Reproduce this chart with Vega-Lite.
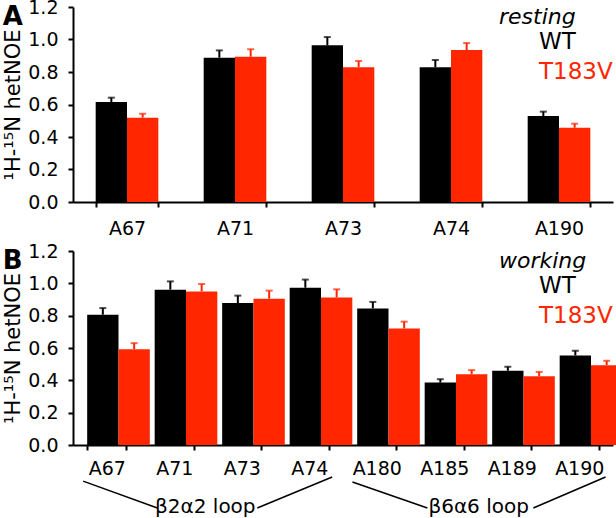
{
  "$schema": "https://vega.github.io/schema/vega-lite/v6.json",
  "padding": {"top": -2, "left": 2, "right": 0, "bottom": 0},
  "background": "white",
  "config": {
    "view": {"stroke": null},
    "font": "DejaVu Sans",
    "axis": {
      "domainColor": "black", "domainWidth": 2, "tickColor": "black", "tickWidth": 2, "tickSize": 5,
      "labelColor": "black", "labelFont": "DejaVu Sans", "labelFontSize": 19, "grid": false, "labelOverlap": false,
      "titleColor": "black", "titleFont": "DejaVu Sans", "titleFontWeight": "normal"
    },
    "axisY": {"titleFontSize": 21, "titlePadding": 4, "labelPadding": 10}
  },
  "datasets": {
    "resting": [
      {"residue": "A67", "series": "WT", "value": 0.615, "upper": 0.642},
      {"residue": "A67", "series": "T183V", "value": 0.519, "upper": 0.543},
      {"residue": "A71", "series": "WT", "value": 0.888, "upper": 0.933},
      {"residue": "A71", "series": "T183V", "value": 0.894, "upper": 0.940},
      {"residue": "A73", "series": "WT", "value": 0.964, "upper": 1.015},
      {"residue": "A73", "series": "T183V", "value": 0.830, "upper": 0.868},
      {"residue": "A74", "series": "WT", "value": 0.830, "upper": 0.874},
      {"residue": "A74", "series": "T183V", "value": 0.935, "upper": 0.978},
      {"residue": "A190", "series": "WT", "value": 0.529, "upper": 0.556},
      {"residue": "A190", "series": "T183V", "value": 0.457, "upper": 0.482}
    ],
    "working": [
      {"residue": "A67", "series": "WT", "value": 0.806, "upper": 0.847},
      {"residue": "A67", "series": "T183V", "value": 0.593, "upper": 0.630},
      {"residue": "A71", "series": "WT", "value": 0.961, "upper": 1.012},
      {"residue": "A71", "series": "T183V", "value": 0.950, "upper": 0.996},
      {"residue": "A73", "series": "WT", "value": 0.878, "upper": 0.924},
      {"residue": "A73", "series": "T183V", "value": 0.905, "upper": 0.955},
      {"residue": "A74", "series": "WT", "value": 0.973, "upper": 1.023},
      {"residue": "A74", "series": "T183V", "value": 0.913, "upper": 0.963},
      {"residue": "A180", "series": "WT", "value": 0.845, "upper": 0.885},
      {"residue": "A180", "series": "T183V", "value": 0.721, "upper": 0.763},
      {"residue": "A185", "series": "WT", "value": 0.386, "upper": 0.407},
      {"residue": "A185", "series": "T183V", "value": 0.438, "upper": 0.463},
      {"residue": "A189", "series": "WT", "value": 0.459, "upper": 0.484},
      {"residue": "A189", "series": "T183V", "value": 0.426, "upper": 0.452},
      {"residue": "A190", "series": "WT", "value": 0.554, "upper": 0.583},
      {"residue": "A190", "series": "T183V", "value": 0.494, "upper": 0.521}
    ],
    "brackets": [
      {"x": 0.15, "y": -0.186, "x2": 1.25, "y2": -0.325},
      {"x": 2.73, "y": -0.325, "x2": 3.84, "y2": -0.165},
      {"x": 4.14, "y": -0.191, "x2": 5.25, "y2": -0.325},
      {"x": 6.82, "y": -0.325, "x2": 7.89, "y2": -0.165}
    ],
    "loops": [
      {"x": 1.96, "y": -0.348, "label": "β2α2 loop"},
      {"x": 6.01, "y": -0.348, "label": "β6α6 loop"}
    ]
  },
  "resolve": {"legend": {"color": "independent"}},
  "spacing": 4,
  "vconcat": [
    {
      "width": 540, "height": 195,
      "data": {"name": "resting"},
      "title": {"text": "A", "anchor": "start", "frame": "bounds", "orient": "top", "fontSize": 26, "fontWeight": "bold", "font": "DejaVu Sans", "color": "black", "offset": 0, "dy": 32, "dx": 0},
      "encoding": {
        "x": {"field": "residue", "type": "nominal", "sort": ["A67", "A71", "A73", "A74", "A190"],
              "scale": {"paddingInner": 0.42, "paddingOuter": 0.21},
              "axis": {"title": null, "labelAngle": 0, "tickBand": "extent", "labelPadding": 12}},
        "xOffset": {"field": "series", "type": "nominal", "sort": ["WT", "T183V"], "scale": {"paddingInner": 0, "paddingOuter": 0}},
        "color": {"field": "series", "type": "nominal", "sort": ["WT", "T183V"],
                  "scale": {"domain": ["WT", "T183V"], "range": ["#000000", "#FF2600"]},
                  "legend": {"title": "resting", "orient": "top-right", "offset": 0, "padding": 0, "symbolSize": 0, "symbolStrokeWidth": 0, "symbolOpacity": 0, "labelOffset": 17,
                             "labelFont": "DejaVu Sans", "labelFontSize": 23, "titleFont": "DejaVu Sans", "titleFontSize": 22, "titleFontStyle": "italic", "titleFontWeight": "normal", "titleColor": "black", "titlePadding": 1, "rowPadding": 6,
                             "encode": {"labels": {"update": {"fill": {"scale": "color", "field": "value"}}}}}}
      },
      "layer": [
        {"mark": {"type": "bar"}, "encoding": {"y": {"field": "value", "type": "quantitative", "scale": {"domain": [0, 1.2]},
          "axis": {"title": "¹H-¹⁵N hetNOE", "values": [0, 0.2, 0.4, 0.6, 0.8, 1.0, 1.2], "format": ".1f"}}}},
        {"mark": {"type": "rule", "strokeWidth": 2}, "encoding": {"y": {"field": "value", "type": "quantitative",
          "axis": {"title": "¹H-¹⁵N hetNOE", "values": [0, 0.2, 0.4, 0.6, 0.8, 1.0, 1.2], "format": ".1f"}}, "y2": {"field": "upper"}}},
        {"mark": {"type": "tick", "thickness": 2, "size": 7}, "encoding": {"y": {"field": "upper", "type": "quantitative",
          "axis": {"title": "¹H-¹⁵N hetNOE", "values": [0, 0.2, 0.4, 0.6, 0.8, 1.0, 1.2], "format": ".1f"}}}}
      ]
    },
    {
      "width": 540, "height": 194,
      "title": {"text": "B", "anchor": "start", "frame": "bounds", "orient": "top", "fontSize": 26, "fontWeight": "bold", "font": "DejaVu Sans", "color": "black", "offset": 0, "dy": 32, "dx": 0},
      "resolve": {"scale": {"x": "independent", "y": "independent"}},
      "layer": [
        {
          "data": {"name": "working"},
          "encoding": {
            "x": {"field": "residue", "type": "nominal", "sort": ["A67", "A71", "A73", "A74", "A180", "A185", "A189", "A190"],
                  "scale": {"paddingInner": 0.42, "paddingOuter": 0.21},
                  "axis": {"title": null, "labelAngle": 0, "tickBand": "extent", "labelPadding": 9}},
            "xOffset": {"field": "series", "type": "nominal", "sort": ["WT", "T183V"], "scale": {"paddingInner": 0, "paddingOuter": 0}},
            "color": {"field": "series", "type": "nominal", "sort": ["WT", "T183V"],
                      "scale": {"domain": ["WT", "T183V"], "range": ["#000000", "#FF2600"]},
                      "legend": {"title": "working", "orient": "top-right", "offset": 0, "padding": 0, "symbolSize": 0, "symbolStrokeWidth": 0, "symbolOpacity": 0, "labelOffset": 17,
                                 "labelFont": "DejaVu Sans", "labelFontSize": 23, "titleFont": "DejaVu Sans", "titleFontSize": 22, "titleFontStyle": "italic", "titleFontWeight": "normal", "titleColor": "black", "titlePadding": 1, "rowPadding": 6,
                                 "encode": {"labels": {"update": {"fill": {"scale": "color", "field": "value"}}}}}}
          },
          "layer": [
            {"mark": {"type": "bar"}, "encoding": {"y": {"field": "value", "type": "quantitative", "scale": {"domain": [0, 1.2]},
              "axis": {"title": "¹H-¹⁵N hetNOE", "values": [0, 0.2, 0.4, 0.6, 0.8, 1.0, 1.2], "format": ".1f"}}}},
            {"mark": {"type": "rule", "strokeWidth": 2}, "encoding": {"y": {"field": "value", "type": "quantitative",
              "axis": {"title": "¹H-¹⁵N hetNOE", "values": [0, 0.2, 0.4, 0.6, 0.8, 1.0, 1.2], "format": ".1f"}}, "y2": {"field": "upper"}}},
            {"mark": {"type": "tick", "thickness": 2, "size": 7}, "encoding": {"y": {"field": "upper", "type": "quantitative",
              "axis": {"title": "¹H-¹⁵N hetNOE", "values": [0, 0.2, 0.4, 0.6, 0.8, 1.0, 1.2], "format": ".1f"}}}}
          ]
        },
        {
          "layer": [
            {"data": {"name": "brackets"}, "mark": {"type": "rule", "color": "black", "strokeWidth": 1.5},
             "encoding": {
               "x": {"field": "x", "type": "quantitative", "scale": {"domain": [0, 8], "nice": false, "zero": false}, "axis": null},
               "y": {"field": "y", "type": "quantitative", "scale": {"domain": [0, 1], "nice": false, "zero": false}, "axis": null},
               "x2": {"field": "x2"}, "y2": {"field": "y2"}}},
            {"data": {"name": "loops"}, "mark": {"type": "text", "fontSize": 20, "font": "DejaVu Sans", "color": "black", "baseline": "alphabetic", "align": "center"},
             "encoding": {
               "x": {"field": "x", "type": "quantitative", "axis": null},
               "y": {"field": "y", "type": "quantitative", "axis": null},
               "text": {"field": "label"}}}
          ]
        }
      ]
    }
  ]
}
